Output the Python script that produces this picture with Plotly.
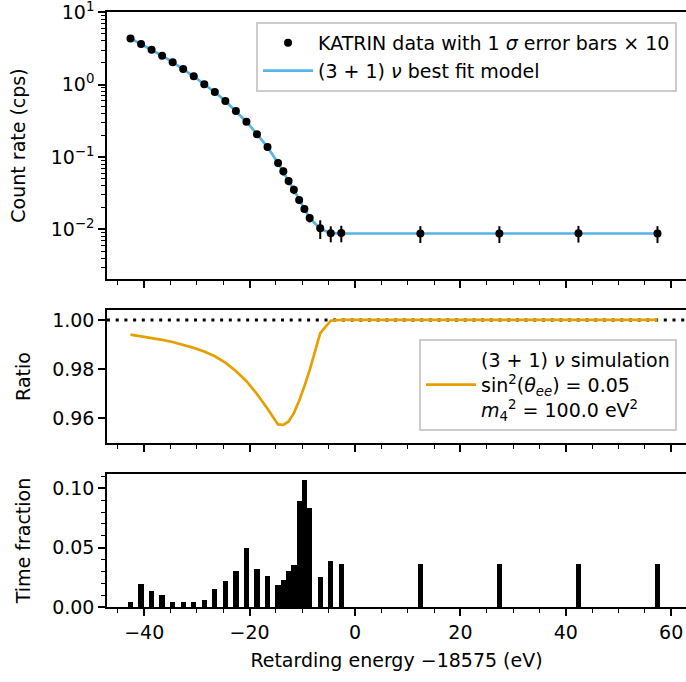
import plotly.graph_objects as go

# Retarding energies relative to 18575 eV (eV)
energy = [-42.6, -40.6, -38.6, -36.6, -34.6, -32.6, -30.6, -28.6, -26.6, -24.6,
          -22.6, -20.6, -18.6, -16.6, -14.6, -13.6, -12.6, -11.6, -10.6, -9.6,
          -8.6, -6.6, -4.6, -2.6, 12.4, 27.4, 42.4, 57.4]

# Measured count rate (cps) and 1-sigma uncertainty
rate = [4.34, 3.62, 3.02, 2.50, 2.04, 1.64, 1.30, 1.01, 0.788, 0.592,
        0.431, 0.307, 0.207, 0.137, 0.0826, 0.0634, 0.0466, 0.0354, 0.0255, 0.0192,
        0.0144, 0.0104, 0.00885, 0.00895, 0.0088, 0.0088, 0.0089, 0.0088]
rate_err = [0.015, 0.0066, 0.0070, 0.0074, 0.0105, 0.0094, 0.0084, 0.0062, 0.0034, 0.0024,
            0.0018, 0.00116, 0.00119, 0.00107, 0.00099, 0.00078, 0.00058, 0.00047, 0.00025, 0.00020,
            0.00019, 0.00030, 0.00022, 0.00023, 0.00023, 0.00023, 0.00023, 0.00023]

# (3+1) nu best-fit model rate (cps)
model_rate = [4.34, 3.62, 3.02, 2.50, 2.04, 1.64, 1.30, 1.01, 0.788, 0.592,
              0.431, 0.307, 0.207, 0.137, 0.0826, 0.0634, 0.0466, 0.0354, 0.0255, 0.0192,
              0.0144, 0.0102, 0.0089, 0.0088, 0.0088, 0.0088, 0.0088, 0.0088]

# Ratio of the sterile-neutrino simulation to the 3nu model
ratio = [0.9940, 0.9934, 0.9927, 0.9919, 0.9910, 0.9899, 0.9886, 0.9871, 0.9852, 0.9826,
         0.9792, 0.9750, 0.9698, 0.9638, 0.9574, 0.9572, 0.9586, 0.9620, 0.9670, 0.9730,
         0.9795, 0.9946, 0.9997, 1.0000, 1.0000, 1.0000, 1.0000, 1.0000]

# Fraction of measurement time spent at each retarding energy
time_frac = [0.0040, 0.0192, 0.0133, 0.0099, 0.0040, 0.0040, 0.0040, 0.0057, 0.0150, 0.0217,
             0.0301, 0.0496, 0.0318, 0.0259, 0.0183, 0.0225, 0.0301, 0.0352, 0.0893, 0.1070,
             0.0834, 0.0251, 0.0386, 0.0361, 0.0361, 0.0361, 0.0361, 0.0361]

log_ticks = [0.01, 0.1, 1, 10]
log_ticktext = ["10<sup>\u22122</sup>", "10<sup>\u22121</sup>", "10<sup>0</sup>", "10<sup>1</sup>"]

FONT = "DejaVu Sans"
FS = 19
BLUE = "#56B4E9"
ORANGE = "#E69F00"
X_RANGE = [-47.06, 62.81]

fig = go.Figure()

# --- top panel: spectrum ---
fig.add_trace(go.Scatter(
    x=energy, y=model_rate, mode="lines",
    line=dict(color=BLUE, width=2.7),
    name="(3 + 1) <i>\u03bd</i> best fit model",
    xaxis="x", yaxis="y", legend="legend", legendrank=2,
))
fig.add_trace(go.Scatter(
    x=energy, y=rate, mode="markers",
    marker=dict(color="black", size=8),
    error_y=dict(type="data", array=[e * 10 for e in rate_err],
                 color="black", thickness=2, width=0),
    name="KATRIN data with 1 <i>\u03c3</i> error bars \u00d7 10",
    xaxis="x", yaxis="y", legend="legend", legendrank=1,
))

# --- middle panel: ratio ---
fig.add_trace(go.Scatter(
    x=X_RANGE, y=[1.0, 1.0], mode="lines",
    line=dict(color="black", width=3, dash="3px,5.7px"),
    showlegend=False, xaxis="x2", yaxis="y2",
))
fig.add_trace(go.Scatter(
    x=energy, y=ratio, mode="lines",
    line=dict(color=ORANGE, width=2.7),
    name=("(3 + 1) <i>\u03bd</i> simulation<br>"
          "sin<sup>2</sup>(<i>\u03b8<sub>ee</sub></i>) = 0.05<br>"
          "<i>m</i><sub>4</sub><sup>2</sup> = 100.0 eV<sup>2</sup>"),
    xaxis="x2", yaxis="y2", legend="legend2",
))

# --- bottom panel: time distribution ---
fig.add_trace(go.Bar(
    x=energy, y=time_frac, width=1.0,
    marker=dict(color="black", line=dict(width=0)),
    showlegend=False, xaxis="x3", yaxis="y3",
))

tick_common = dict(
    ticks="outside", ticklen=7, tickwidth=1.5, tickcolor="black",
    showline=True, linecolor="black", linewidth=1.5,
    showgrid=False, zeroline=False,
    tickfont=dict(family=FONT, size=FS, color="black"),
    ticklabeloverflow="allow",
)

def xaxis(anchor, labels):
    d = dict(tick_common)
    d.update(
        anchor=anchor, domain=[0, 1], range=X_RANGE,
        tickmode="linear", tick0=0, dtick=20, mirror=True,
        showticklabels=labels,
        minor=dict(ticks="outside", ticklen=4, tickwidth=1.2, tickcolor="black",
                   tickmode="linear", tick0=0, dtick=5, showgrid=False),
    )
    return d

minor_log = [m * 10.0 ** k for k in range(-3, 1) for m in range(2, 10)]

fig.update_layout(
    width=686, height=682,
    margin=dict(l=107, r=0, t=12, b=75),
    paper_bgcolor="white", plot_bgcolor="white",
    font=dict(family=FONT, size=FS, color="black"),
    showlegend=True,
    xaxis=xaxis("y", False),
    xaxis2=xaxis("y2", False),
    xaxis3=dict(xaxis("y3", True),
                title=dict(text="Retarding energy \u221218575 (eV)",
                           font=dict(family=FONT, size=FS, color="black"), standoff=12)),
    yaxis=dict(tick_common, type="log", domain=[0.5513, 1.0], range=[-2.683, 1.0015],
               tickmode="array", tickvals=log_ticks, ticktext=log_ticktext,
               minor=dict(ticks="outside", ticklen=4, tickwidth=1.2, tickcolor="black",
                          tickmode="array", tickvals=minor_log, showgrid=False),
               title=dict(text="Count rate (cps)", standoff=20,
                          font=dict(family=FONT, size=FS, color="black")),
               anchor="x"),
    yaxis2=dict(tick_common, domain=[0.2756, 0.4992], range=[0.9498, 1.00407],
                tickmode="linear", tick0=0.96, dtick=0.02, tickformat=".2f",
                title=dict(text="Ratio", standoff=16,
                           font=dict(family=FONT, size=FS, color="black")),
                anchor="x2"),
    yaxis3=dict(tick_common, domain=[0.0, 0.2235], range=[0, 0.1121],
                tickmode="linear", tick0=0, dtick=0.05, tickformat=".2f",
                minor=dict(ticks="outside", ticklen=4, tickwidth=1.2, tickcolor="black",
                           tickmode="linear", tick0=0, dtick=0.01, showgrid=False),
                title=dict(text="Time fraction", standoff=16,
                           font=dict(family=FONT, size=FS, color="black")),
                anchor="x3"),
    legend=dict(x=0.9845, y=0.9832, xanchor="right", yanchor="top",
                bgcolor="rgba(255,255,255,0.8)", bordercolor="#cccccc", borderwidth=2,
                font=dict(family=FONT, size=FS, color="black"), tracegroupgap=0,
                itemwidth=50),
    legend2=dict(x=0.9845, y=0.4504, xanchor="right", yanchor="top",
                 bgcolor="rgba(255,255,255,0.8)", bordercolor="#cccccc", borderwidth=2,
                 font=dict(family=FONT, size=FS, color="black"), valign="middle",
                 itemwidth=50),
    bargap=0,
)

fig.write_html("out.html")
